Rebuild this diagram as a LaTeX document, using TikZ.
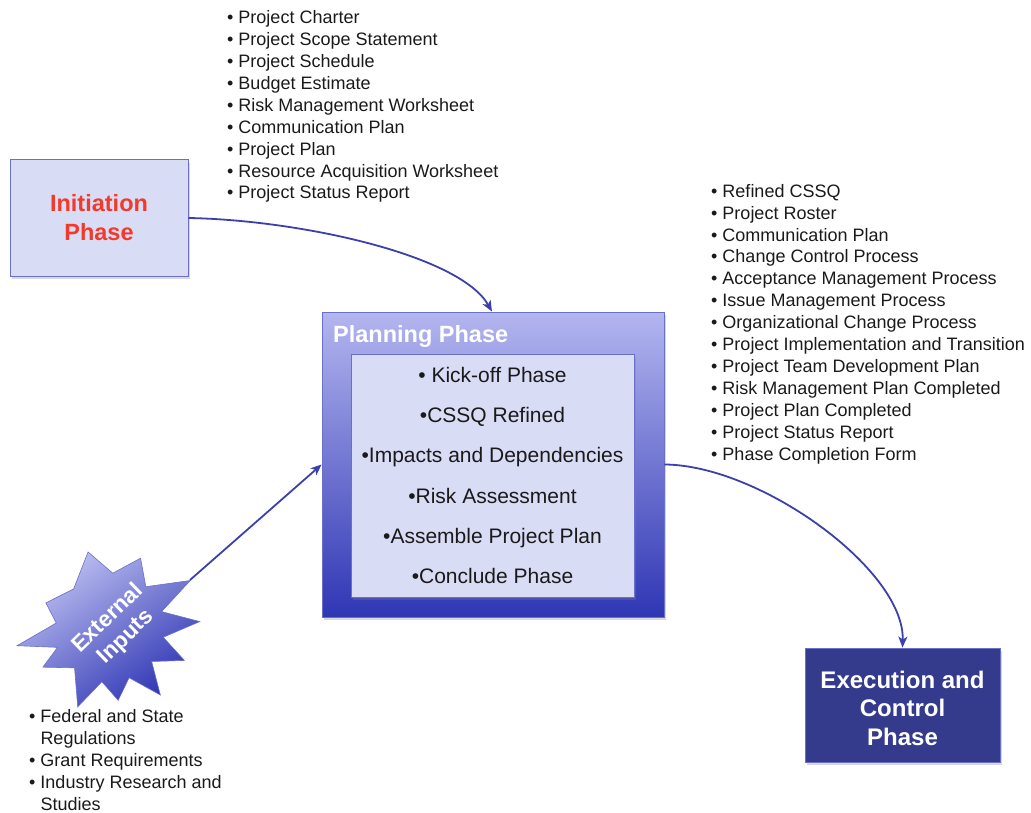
\documentclass[tikz,border=0pt]{standalone}
\usepackage{fontspec}
\setmainfont{Liberation Sans}
\usetikzlibrary{arrows.meta,shapes.geometric,shadows}
\definecolor{linecol}{HTML}{3B40AA}
\definecolor{boxfill}{HTML}{D9DCF5}
\definecolor{boxdraw}{HTML}{6A70C8}
\definecolor{initred}{HTML}{F23A2A}
\definecolor{exefill}{HTML}{343A8C}
\definecolor{gradtop}{HTML}{B3B6EF}
\definecolor{gradbot}{HTML}{2F36B4}
\definecolor{txt}{HTML}{1A1A1A}
\tikzset{
  conn/.style={draw=linecol, line width=1.8pt, -{Stealth[length=11pt,width=9pt,inset=3pt]}},
  lst/.style={anchor=north west, inner sep=0pt, align=left, text=txt, font=\fontsize{18}{21.9}\selectfont},
  shad/.style={drop shadow={opacity=0.3, shadow xshift=2pt, shadow yshift=-3pt}},
}
\begin{document}
\begin{tikzpicture}[x=1pt,y=-1pt]
\useasboundingbox (0,0) rectangle (1031,813);

% Initiation
\node[shad, draw=boxdraw, fill=boxfill, line width=1pt, minimum width=178pt, minimum height=116pt,
  align=center, text=initred, font=\bfseries\fontsize{23.5}{29}\selectfont] (init) at (99,218) {Initiation\\Phase};

% Planning outer
\node[shad, draw=boxdraw, top color=gradtop, bottom color=gradbot, line width=0.8pt,
  minimum width=342pt, minimum height=305pt] (plan) at (493,464.5) {};
\node[anchor=base west, inner sep=0pt, text=white, font=\bfseries\fontsize{23.5}{28}\selectfont] (plantitle) at (333,342.5) {Planning Phase};
\node[shad, draw=boxdraw, fill=boxfill, line width=0.8pt, minimum width=283pt, minimum height=243pt,
  align=center, text=txt, font=\fontsize{21}{40.2}\selectfont] (inner) at (492.5,475.5)
  {• Kick-off Phase\\•CSSQ Refined\\•Impacts and Dependencies\\•Risk Assessment\\•Assemble Project Plan\\•Conclude Phase};

% Execution
\node[shad, draw=boxdraw, fill=exefill, line width=0.8pt, minimum width=195pt, minimum height=114pt,
  align=center, text=white, font=\bfseries\fontsize{24}{28.5}\selectfont] (exe) at (902.5,705) {};
\node[align=center, text=white, font=\bfseries\fontsize{24}{28.5}\selectfont] (exetext) at (902.5,708) {Execution and\\Control\\Phase};

% Star
\shade[shift={(108,628)}, top color=gradtop!85!white, bottom color=gradbot, shading angle=35, draw=boxdraw, line width=0.6pt]
  (-104.7:78.6) -- (-85:55) -- (-65:77) -- (-47.5:56) -- (-30:95) -- (-17:56) -- (-4:92) -- (9.5:56)
  -- (23:83) -- (37.5:55) -- (52:85) -- (67:54) -- (82:73) -- (96.5:54) -- (111:84.5) -- (130:52)
  -- (149:76) -- (159:54) -- (169:92.6) -- (185.5:52) -- (202:67) -- (228.6:52) -- cycle;
\coordinate (startip) at (190,580);
\node[rotate=44, align=center, text=white, font=\bfseries\fontsize{22.5}{26}\selectfont] (star) at (117,628) {External\\Inputs};

% Lists
\node[lst] (toplist) at (227,10.5) {• Project Charter\\• Project Scope Statement\\• Project Schedule\\• Budget Estimate\\• Risk Management Worksheet\\• Communication Plan\\• Project Plan\\• Resource Acquisition Worksheet\\• Project Status Report};
\node[lst] (rightlist) at (711,184) {• Refined CSSQ\\• Project Roster\\• Communication Plan\\• Change Control Process\\• Acceptance Management Process\\• Issue Management Process\\• Organizational Change Process\\• Project Implementation and Transition\\• Project Team Development Plan\\• Risk Management Plan Completed\\• Project Plan Completed\\• Project Status Report\\• Phase Completion Form};
\node[lst] (botlist) at (29,709.5) {• Federal and State\\\phantom{• }Regulations\\• Grant Requirements\\• Industry Research and\\\phantom{• }Studies};

% Connectors
\draw[conn] (init.east) .. controls (300,220) and (460,255) .. (plan.north -| 492,0);
\draw[conn] (startip) -- (plan.west);
\draw[conn] (plan.east) .. controls (760,465) and (905,570) .. (exe.north);
\end{tikzpicture}
\end{document}
